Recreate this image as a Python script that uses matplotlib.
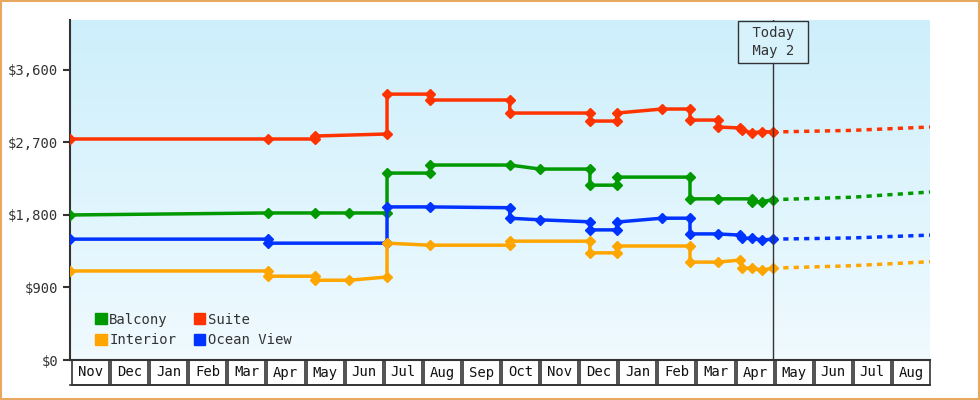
import numpy as np
import matplotlib.pyplot as plt
from matplotlib.patches import Rectangle, Patch
from matplotlib.colors import LinearSegmentedColormap
import matplotlib.transforms as mtransforms

plt.rcParams['font.family'] = ['DejaVu Sans Mono']

months = ['Nov', 'Dec', 'Jan', 'Feb', 'Mar', 'Apr', 'May', 'Jun', 'Jul', 'Aug', 'Sep',
          'Oct', 'Nov', 'Dec', 'Jan', 'Feb', 'Mar', 'Apr', 'May', 'Jun', 'Jul', 'Aug']
today = 17.98

# (month position, price) for each recorded price, in order
suite_x = [0, 5.06, 6.27, 6.27, 8.11, 8.11, 9.21, 9.21, 11.25, 11.25, 13.30, 13.30, 13.99, 13.99,
           15.14, 15.86, 15.86, 16.57, 16.57, 17.14, 17.19, 17.44, 17.70, 17.98]
suite_y = [2743, 2743, 2743, 2780, 2805, 3300, 3300, 3227, 3227, 3065, 3065, 2966, 2966, 3065,
           3115, 3115, 2978, 2978, 2892, 2880, 2855, 2817, 2835, 2830]
balcony_x = [0, 5.06, 6.27, 7.14, 8.11, 8.11, 9.21, 9.21, 11.25, 12.02, 13.30, 13.30, 13.99, 13.99,
             15.86, 15.86, 16.57, 17.44, 17.44, 17.70, 17.98]
balcony_y = [1800, 1825, 1825, 1825, 1825, 2320, 2320, 2420, 2420, 2370, 2370, 2170, 2170, 2270,
             2270, 2000, 2000, 2000, 1965, 1965, 1990]
ocean_x = [0, 5.06, 5.06, 8.11, 8.11, 9.21, 11.25, 11.25, 12.02, 13.30, 13.30, 13.99, 13.99, 15.14,
           15.86, 15.86, 16.57, 17.14, 17.19, 17.44, 17.70, 17.98]
ocean_y = [1500, 1500, 1450, 1450, 1900, 1900, 1890, 1760, 1740, 1715, 1615, 1615, 1712, 1760,
           1760, 1565, 1565, 1550, 1515, 1510, 1490, 1500]
interior_x = [0, 5.06, 5.06, 6.27, 6.27, 7.14, 8.11, 8.11, 9.21, 11.25, 11.25, 13.30, 13.30, 13.99,
              13.99, 15.86, 15.86, 16.57, 17.14, 17.19, 17.44, 17.70, 17.98]
interior_y = [1105, 1105, 1040, 1040, 990, 990, 1030, 1450, 1425, 1425, 1475, 1475, 1330, 1330,
              1415, 1415, 1215, 1215, 1240, 1140, 1140, 1115, 1140]

# forecast (dashed)
fc_x = [17.98, 20.0, 22.0]
suite_fc = [2830, 2850, 2892]
balcony_fc = [1990, 2020, 2085]
ocean_fc = [1500, 1515, 1550]
interior_fc = [1140, 1170, 1220]

fig = plt.figure(figsize=(9.8, 4), dpi=100)
fig.patch.set_facecolor('white')
fig.add_artist(Rectangle((0.001, 0.002), 0.998, 0.996, transform=fig.transFigure,
                         fill=False, edgecolor='#e8a860', linewidth=1.5))
ax = fig.add_axes([70/980, 40/400, 860/980, 340/400])
ymax = 4220
ax.set_xlim(0, 22)
ax.set_ylim(0, ymax)

# gradient background
grad = np.linspace(0, 1, 256).reshape(-1, 1)
cmap = LinearSegmentedColormap.from_list('bg', ['#f0faff', '#cdeffb'])
ax.imshow(grad, extent=[0, 22, 0, ymax], origin='lower', aspect='auto', cmap=cmap, zorder=0)

series = [('Suite', '#ff3300', suite_x, suite_y, suite_fc),
          ('Balcony', '#009900', balcony_x, balcony_y, balcony_fc),
          ('Ocean View', '#0033ff', ocean_x, ocean_y, ocean_fc),
          ('Interior', '#ffa500', interior_x, interior_y, interior_fc)]
for name, c, xs, ys, fc in series:
    ax.plot(xs, ys, color=c, lw=2.5, marker='D', ms=5.5, zorder=3)
    ax.plot(fc_x, fc, color=c, lw=2.5, ls=(0, (1.5, 1.5)), zorder=3)

ax.axvline(today, color='#333333', lw=1, zorder=4)
ax.text(today, ymax * 0.935, ' Today \n May 2 ', ha='center', va='center', fontsize=10,
        color='#333333', zorder=5, linespacing=1.3,
        bbox=dict(boxstyle='square,pad=0.4', fc='#d8f2fc', ec='#333333', lw=1))

for s in ['top', 'right', 'bottom']:
    ax.spines[s].set_visible(False)
ax.spines['left'].set_color('#333333')
ax.spines['left'].set_linewidth(1.5)
ax.set_yticks([0, 900, 1800, 2700, 3600])
ax.set_yticklabels(['$0', '$900', '$1,800', '$2,700', '$3,600'])
ax.tick_params(axis='y', colors='#333333', labelsize=10, length=5, width=1.5)
ax.set_xticks([])

# month boxes under the axis
trans = mtransforms.blended_transform_factory(ax.transData, ax.transAxes)
bh = 25 / 340
for i, m in enumerate(months):
    ax.add_patch(Rectangle((i + 0.05, -bh), 0.95, bh, transform=trans, fill=False,
                           edgecolor='#333333', lw=1.2, clip_on=False))
    ax.text(i + 0.52, -bh / 2, m, transform=trans, ha='center', va='center',
            fontsize=10, color='#111111')
ax.plot([0, 22], [-bh, -bh], transform=trans, color='#333333', lw=1.2, clip_on=False)
ax.plot([0, 22], [0, 0], transform=trans, color='#333333', lw=1.5, clip_on=False)

handles = [Patch(color='#009900', label='Balcony'), Patch(color='#ffa500', label='Interior'),
           Patch(color='#ff3300', label='Suite'), Patch(color='#0033ff', label='Ocean View')]
ax.legend(handles=handles, ncol=2, loc='lower left', bbox_to_anchor=(0.015, 0.0),
          frameon=False, fontsize=10, handlelength=0.8, handleheight=0.8,
          handletextpad=0.2, columnspacing=1.3, labelspacing=0.5, labelcolor='#333333')

fig.savefig('out.png', dpi=100)
